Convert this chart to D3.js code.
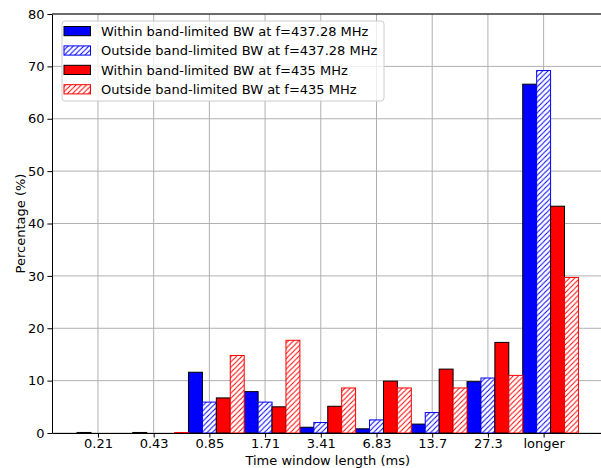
<!DOCTYPE html>
<html>
<head>
<meta charset="utf-8">
<script src="https://cdnjs.cloudflare.com/ajax/libs/d3/7.8.5/d3.min.js"></script>
<style>
  body { margin: 0; background: #fff; }
  text { font-family: "DejaVu Sans", sans-serif; fill: #000; }
</style>
</head>
<body>
<div id="main"></div>
<script>
// chart data
var categories = ['0.21', '0.43', '0.85', '1.71', '3.41', '6.83', '13.7', '27.3', 'longer'];
var withinHigh = [0.1, 0.1, 11.6, 7.9, 1.1, 0.8, 1.7, 9.8, 66.6];
var outsideHigh = [0, 0, 5.9, 5.9, 2.0, 2.5, 3.9, 10.5, 69.2];
var withinLow = [0, 0, 6.7, 5.0, 5.1, 9.9, 12.2, 17.3, 43.3];
var outsideLow = [0, 0.1, 14.8, 17.7, 8.6, 8.6, 8.6, 11.0, 29.7];
var yTicks = [0, 10, 20, 30, 40, 50, 60, 70, 80];

var seriesNames = [
  'Within band-limited BW at f=437.28 MHz',
  'Outside band-limited BW at f=437.28 MHz',
  'Within band-limited BW at f=435 MHz',
  'Outside band-limited BW at f=435 MHz'
];

var svgWidth = 601;
var svgHeight = 468;
var plot = { l: 52, t: 14, b: 433, r: 603.5 };
var barW = 0.25;

var series = [
  { name: seriesNames[0], values: withinHigh, offset: -1, color: 'blue', hatch: false },
  { name: seriesNames[1], values: outsideHigh, offset: 0, color: 'blue', hatch: true },
  { name: seriesNames[2], values: withinLow, offset: 1, color: 'red', hatch: false },
  { name: seriesNames[3], values: outsideLow, offset: 2, color: 'red', hatch: true }
];

var svg = d3.select('#main')
  .append('svg')
  .attr('width', svgWidth)
  .attr('height', svgHeight);

// hatch patterns
var defs = svg.append('defs');
['blue', 'red'].forEach(function (c) {
  var s = 5.2;
  var p = defs.append('pattern')
    .attr('id', 'hatch-' + c)
    .attr('patternUnits', 'userSpaceOnUse')
    .attr('width', s)
    .attr('height', s);
  p.append('rect').attr('width', s).attr('height', s).attr('fill', 'white');
  [[-1, 1, 1, -1], [0, s, s, 0], [s - 1, s + 1, s + 1, s - 1]].forEach(function (l) {
    p.append('line')
      .attr('x1', l[0]).attr('y1', l[1]).attr('x2', l[2]).attr('y2', l[3])
      .attr('stroke', c)
      .attr('stroke-width', 1);
  });
});

var xScale = d3.scaleLinear()
  .domain([-0.825, 9.075])
  .range([plot.l, plot.r]);

var yScale = d3.scaleLinear()
  .domain([0, 80])
  .range([plot.b, plot.t]);

// grid
var grid = svg.append('g');
grid.selectAll('.vgrid')
  .data(d3.range(categories.length))
  .enter()
  .append('line')
  .attr('x1', (d) => xScale(d)).attr('x2', (d) => xScale(d))
  .attr('y1', plot.t).attr('y2', plot.b)
  .attr('stroke', '#b0b0b0')
  .attr('stroke-width', 1);
grid.selectAll('.hgrid')
  .data(yTicks)
  .enter()
  .append('line')
  .attr('x1', plot.l).attr('x2', plot.r)
  .attr('y1', (d) => yScale(d)).attr('y2', (d) => yScale(d))
  .attr('stroke', '#b0b0b0')
  .attr('stroke-width', 1);

// bars
series.forEach(function (s) {
  svg.append('g')
    .selectAll('rect')
    .data(s.values)
    .enter()
    .append('rect')
    .attr('x', (d, i) => xScale(i + (s.offset - 0.5) * barW))
    .attr('y', (d) => yScale(d))
    .attr('width', xScale(barW) - xScale(0))
    .attr('height', (d) => yScale(0) - yScale(d))
    .attr('fill', s.hatch ? 'url(#hatch-' + s.color + ')' : s.color)
    .attr('stroke', s.hatch ? s.color : 'black')
    .attr('stroke-width', 1);
});

// axes
var xAxis = d3.axisBottom(xScale)
  .tickValues(d3.range(categories.length))
  .tickFormat((d) => categories[d])
  .tickSize(4.6)
  .tickSizeOuter(0);

var xG = svg.append('g')
  .attr('transform', 'translate(0,' + plot.b + ')')
  .call(xAxis);

var yAxis = d3.axisLeft(yScale)
  .tickValues(yTicks)
  .tickSize(4.6)
  .tickSizeOuter(0);

var yG = svg.append('g')
  .attr('transform', 'translate(' + plot.l + ',0)')
  .call(yAxis);

[xG, yG].forEach(function (g) {
  g.selectAll('text')
    .style('font-family', '"DejaVu Sans", sans-serif')
    .style('font-size', '13px')
    .attr('fill', '#000');
  g.selectAll('line').attr('stroke', '#000').attr('stroke-width', 1);
  g.select('.domain').attr('stroke', '#000').attr('stroke-width', 1);
});
xG.selectAll('text').attr('dy', '0.71em').attr('y', 6);
yG.selectAll('text').attr('x', -7.5);

// top spine
svg.append('line')
  .attr('x1', plot.l).attr('x2', plot.r)
  .attr('y1', plot.t).attr('y2', plot.t)
  .attr('stroke', '#000')
  .attr('stroke-width', 1);

// axis labels
svg.append('text')
  .attr('x', (plot.l + plot.r) / 2)
  .attr('y', 464.5)
  .attr('text-anchor', 'middle')
  .style('font-size', '13px')
  .text('Time window length (ms)');

svg.append('text')
  .attr('transform', 'translate(25,' + ((plot.t + plot.b) / 2) + ') rotate(-90)')
  .attr('text-anchor', 'middle')
  .style('font-size', '13px')
  .text('Percentage (%)');

// legend
var legendG = svg.append('g')
  .attr('transform', 'translate(62,21)');

legendG.append('rect')
  .attr('width', 322)
  .attr('height', 80)
  .attr('rx', 3)
  .attr('fill', 'white')
  .attr('fill-opacity', 0.8)
  .attr('stroke', '#cccccc')
  .attr('stroke-width', 1);

series.forEach(function (s, i) {
  var y = 10 + i * 19.4;
  legendG.append('rect')
    .attr('x', 2)
    .attr('y', y - 4.5)
    .attr('width', 26.5)
    .attr('height', 9.2)
    .attr('fill', s.hatch ? 'url(#hatch-' + s.color + ')' : s.color)
    .attr('stroke', s.hatch ? s.color : 'black')
    .attr('stroke-width', 1);
  legendG.append('text')
    .attr('x', 39)
    .attr('y', y + 4.7)
    .style('font-size', '13px')
    .text(s.name);
});
</script>
</body>
</html>
